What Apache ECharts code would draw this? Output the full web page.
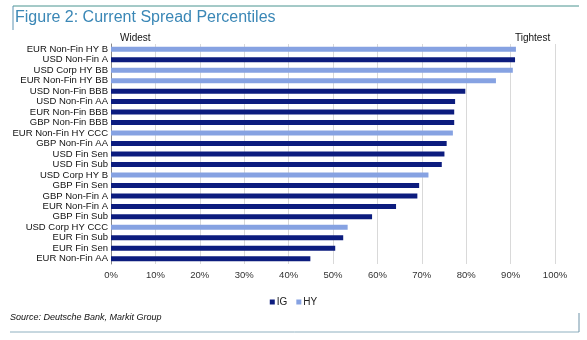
<!DOCTYPE html>
<html>
<head>
<meta charset="utf-8">
<script src="https://cdn.jsdelivr.net/npm/echarts@6/dist/echarts.min.js"></script>
<style>
  html, body { margin: 0; padding: 0; background: #fff; }
  #chart { width: 587px; height: 340px; }
</style>
</head>
<body>
<div id="chart"></div>
<script>
// categories top to bottom
const categories = [
  'EUR Non-Fin HY B', 'USD Non-Fin A', 'USD Corp HY BB', 'EUR Non-Fin HY BB',
  'USD Non-Fin BBB', 'USD Non-Fin AA', 'EUR Non-Fin BBB', 'GBP Non-Fin BBB',
  'EUR Non-Fin HY CCC', 'GBP Non-Fin AA', 'USD Fin Sen', 'USD Fin Sub',
  'USD Corp HY B', 'GBP Fin Sen', 'GBP Non-Fin A', 'EUR Non-Fin A',
  'GBP Fin Sub', 'USD Corp HY CCC', 'EUR Fin Sub', 'EUR Fin Sen', 'EUR Non-Fin AA'
];
// IG percentiles (null where the row is HY)
const igValues = [
  null, 91.0, null, null, 79.8, 77.5, 77.3, 77.3, null, 75.6, 75.1, 74.5,
  null, 69.4, 69.0, 64.2, 58.8, null, 52.3, 50.5, 44.9
];
// HY percentiles (null where the row is IG)
const hyValues = [
  91.2, null, 90.5, 86.7, null, null, null, null, 77.0, null, null, null,
  71.5, null, null, null, null, 53.3, null, null, null
];
const xTicks = [0, 10, 20, 30, 40, 50, 60, 70, 80, 90, 100];

const font = 'Liberation Sans, Arial, sans-serif';
const chart = echarts.init(document.getElementById('chart'));

chart.setOption({
  animation: false,
  textStyle: { fontFamily: font },
  grid: { left: 111, right: 32, top: 44, bottom: 76 },
  legend: {
    data: ['IG', 'HY'],
    top: 292,
    left: 'center',
    icon: 'rect',
    itemWidth: 5,
    itemHeight: 5,
    itemGap: 9,
    textStyle: { fontSize: 10, color: '#222', fontFamily: font, padding: [0, 0, 0, -3] }
  },
  xAxis: {
    type: 'value',
    min: xTicks[0],
    max: xTicks[xTicks.length - 1],
    interval: 10,
    axisLine: { show: false },
    axisTick: { show: false },
    axisLabel: { fontSize: 9.5, color: '#333', margin: 6, formatter: '{value}%' },
    splitLine: { lineStyle: { color: '#d9d9d9' } }
  },
  yAxis: {
    type: 'category',
    data: categories,
    inverse: true,
    axisLine: { lineStyle: { color: '#888' } },
    axisTick: { length: 3, lineStyle: { color: '#888' } },
    axisLabel: { fontSize: 9.5, color: '#111', margin: 3, interval: 0 }
  },
  series: [
    {
      name: 'IG', type: 'bar', stack: 'p', barWidth: 5,
      itemStyle: { color: '#0c1c7e' },
      data: igValues
    },
    {
      name: 'HY', type: 'bar', stack: 'p', barWidth: 5,
      itemStyle: { color: '#86a2e2' },
      data: hyValues
    }
  ],
  graphic: [
    { type: 'line', shape: { x1: 13, y1: 6, x2: 579, y2: 6 }, style: { stroke: '#4a9490', lineWidth: 1 } },
    { type: 'line', shape: { x1: 13, y1: 6, x2: 13, y2: 30 }, style: { stroke: '#5f94b3', lineWidth: 1 } },
    { type: 'text', left: 15, top: 10, style: { text: 'Figure 2: Current Spread Percentiles', fill: '#3a87b6', font: '16px ' + font } },
    { type: 'text', left: 120, top: 33, style: { text: 'Widest', fill: '#111', font: '10px ' + font } },
    { type: 'text', left: 515, top: 33, style: { text: 'Tightest', fill: '#111', font: '10px ' + font } },
    { type: 'text', left: 10, top: 313, style: { text: 'Source: Deutsche Bank, Markit Group', fill: '#111', font: 'italic 9px ' + font } },
    { type: 'line', shape: { x1: 10, y1: 332, x2: 579, y2: 332 }, style: { stroke: '#8fb0c0', lineWidth: 1 } },
    { type: 'line', shape: { x1: 579, y1: 313, x2: 579, y2: 332 }, style: { stroke: '#6f93a8', lineWidth: 1 } }
  ]
});
</script>
</body>
</html>
